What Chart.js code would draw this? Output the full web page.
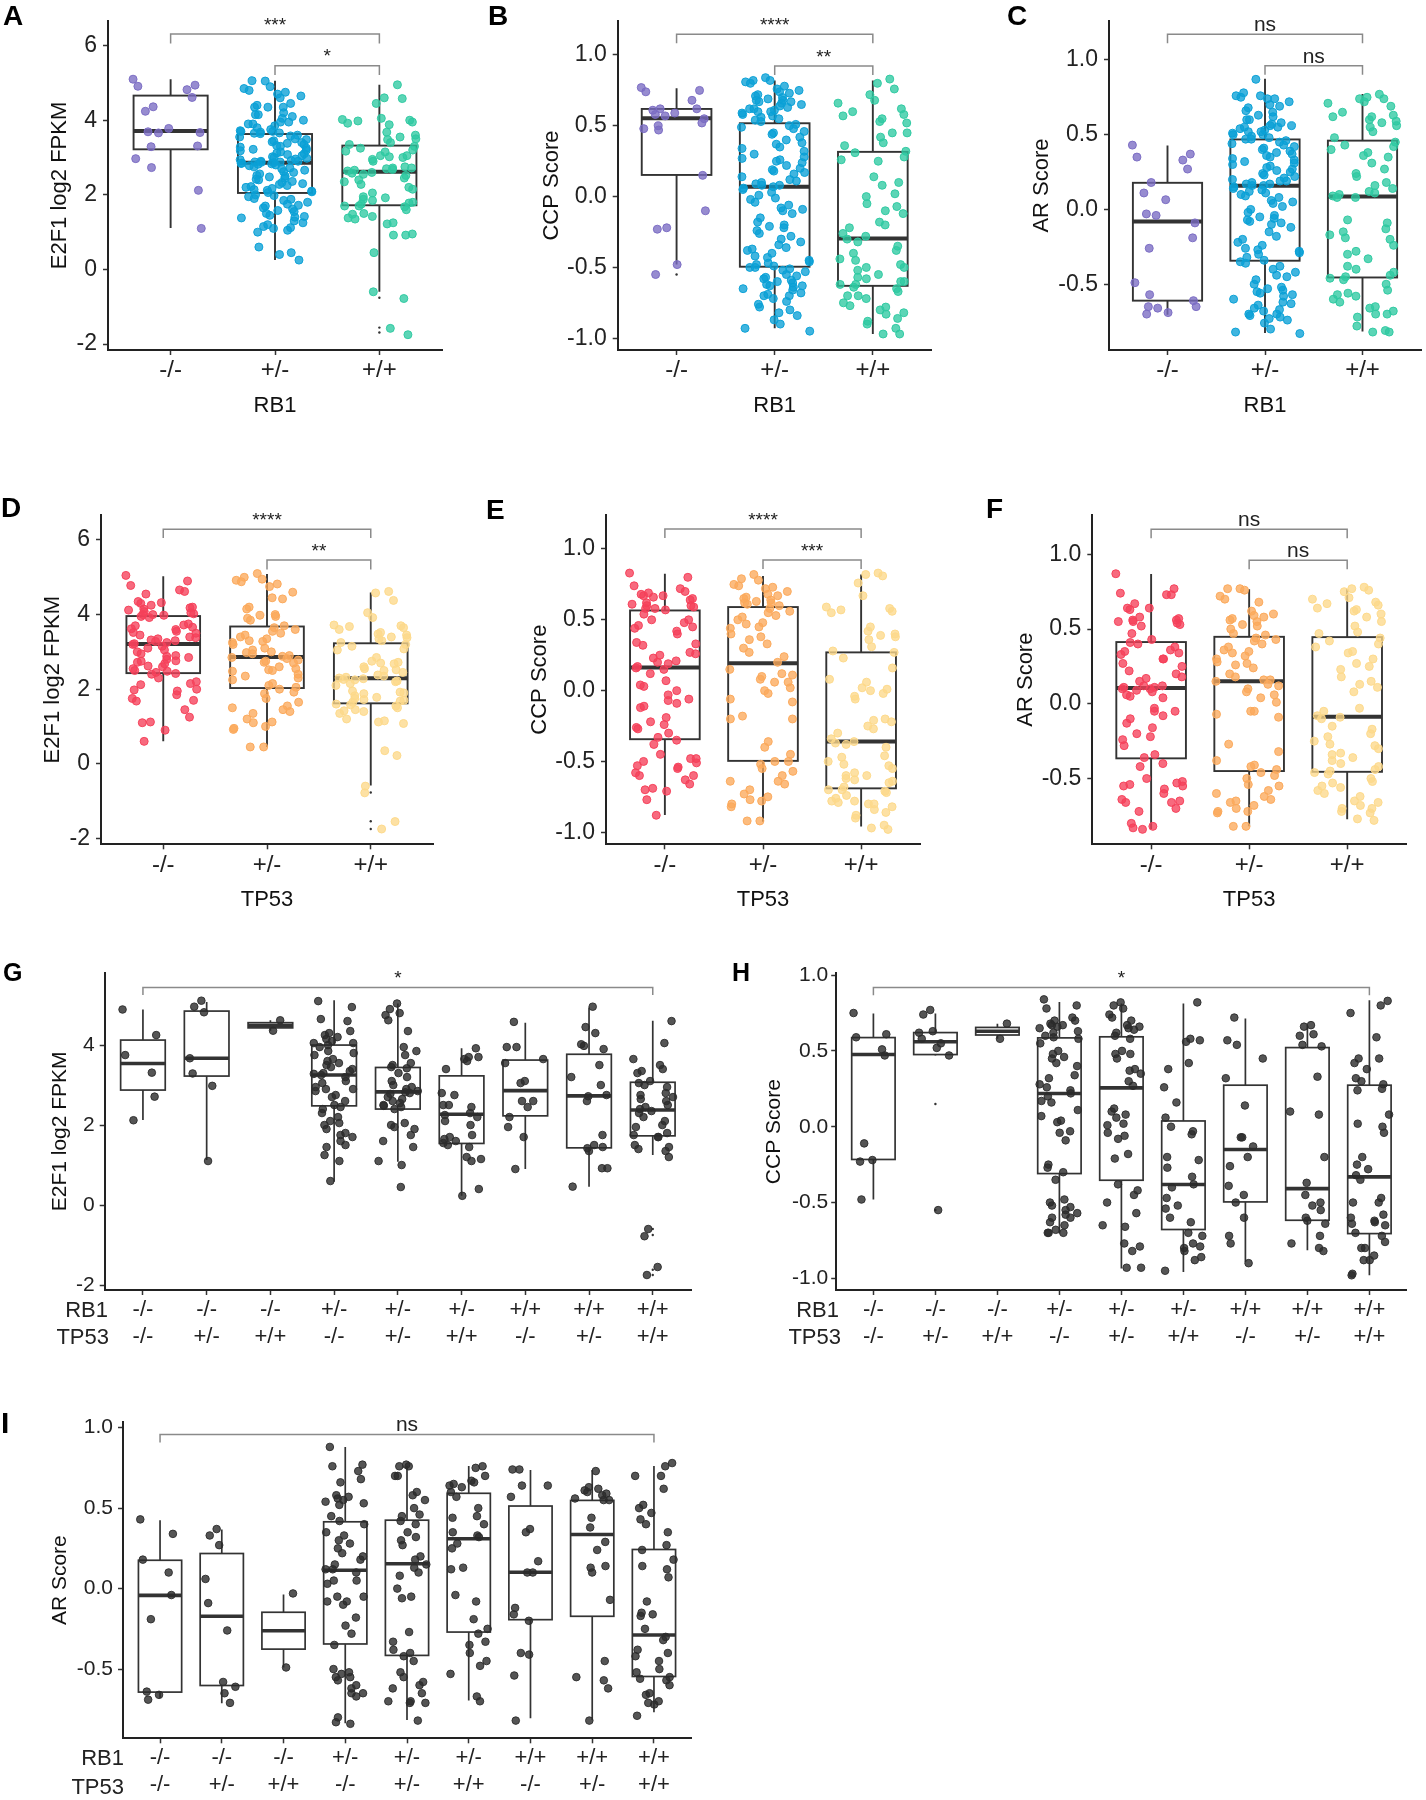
<!DOCTYPE html>
<html>
<head>
<meta charset="utf-8">
<script src="https://cdn.jsdelivr.net/npm/chart.js@4.4.1/dist/chart.umd.min.js"></script>
<style>
body { margin: 0; background: #fff; }
#fig { position: relative; width: 1426px; height: 1800px; font-family: "Liberation Sans", Arial, sans-serif; }
#fig canvas { position: absolute; }
.letter { position: absolute; font-weight: bold; color: #000; line-height: 1; }
.rowlab { position: absolute; font-size: 22px; line-height: 22px; color: #222; white-space: nowrap; text-align: right; }
</style>
</head>
<body>
<div id="fig"></div>
<script>
// categories
var rb1Levels = ['-/-', '+/-', '+/+'];
var tp53Levels = ['-/-', '+/-', '+/+'];
var comboRB1 = ['-/-', '-/-', '-/-', '+/-', '+/-', '+/-', '+/+', '+/+', '+/+'];
var comboTP53 = ['-/-', '+/-', '+/+', '-/-', '+/-', '+/+', '-/-', '+/-', '+/+'];

// tick labels
var e2f1Ticks = [-2, 0, 2, 4, 6];
var e2f1ComboTicks = [-2, 0, 2, 4];
var ccpTicks = [-1, -0.5, 0, 0.5, 1];
var arTicks = [-0.5, 0, 0.5, 1];
var xTicks3 = [1, 2, 3];
var xTicks9 = [1, 2, 3, 4, 5, 6, 7, 8, 9];

// A: E2F1 by RB1
var aNull = [5.1,4.94,4.91,4.82,4.61,4.36,4.24,3.78,3.69,3.66,3.67,3.31,3.29,2.97,2.73,2.12,1.1];
var aHet = [5.05,5.06,4.9,4.85,4.8,4.75,4.7,4.65,4.6,4.45,4.4,4.35,4.35,4.35,4.2,4.15,4.15,4.1,4.05,4.0,3.95,3.95,3.9,3.9,3.85,3.8,3.75,3.72,3.7,3.7,3.68,3.66,3.65,3.64,
  3.6,3.58,3.55,3.5,3.48,3.45,3.42,3.4,3.38,3.35,3.32,3.3,3.28,3.25,3.22,3.2,3.18,3.15,3.12,3.1,3.08,3.05,3.02,3.0,2.98,2.96,2.94,2.92,2.9,2.9,2.88,2.88,2.87,2.86,
  2.85,2.84,2.83,2.82,2.8,2.78,2.75,2.72,2.7,2.66,2.62,2.6,2.56,2.52,2.5,2.48,2.45,2.42,2.4,2.36,2.33,2.3,2.28,2.25,2.22,2.2,2.17,2.14,2.12,2.1,2.08,2.06,
  2.0,1.98,1.95,1.9,1.88,1.85,1.8,1.75,1.72,1.7,1.65,1.62,1.58,1.55,1.5,1.45,1.42,1.4,1.38,1.3,1.25,1.2,1.15,1.12,1.1,1.05,1.0,0.6,0.45,0.4,0.25];
var aWt = [4.95,4.6,4.58,4.45,4.05,4.02,4.0,3.98,3.95,3.92,3.88,3.68,3.6,3.55,3.5,3.48,3.4,3.35,
  3.3,3.25,3.2,3.17,3.15,3.05,3.05,3.02,3.0,2.95,2.9,2.75,2.72,2.72,2.7,2.68,2.66,2.64,
  2.6,2.58,2.55,2.52,2.45,2.4,2.35,2.28,2.2,2.15,2.05,1.95,1.92,1.88,1.85,1.8,1.78,1.75,
  1.7,1.7,1.68,1.6,1.5,1.48,1.42,1.38,1.35,1.25,1.22,0.95,0.92,0.92,0.45,-0.6,-0.78,-1.58,-1.75];
var aBox = [[1.11,3.22,3.71,4.66,5.1],[0.25,2.05,2.86,3.63,5.06],[-0.6,1.72,2.62,3.32,4.95]];
var aOut = [[3,-0.76],[3,-1.56],[3,-1.69]];
var aBrackets = [[1,3,6.31,6.06,'***'],[2,3,5.46,5.21,'*']];

// B: CCP by RB1
var bNull = [0.77,0.75,0.74,0.68,0.62,0.62,0.61,0.59,0.58,0.57,0.55,0.52,0.5,0.48,0.47,0.15,-0.1,-0.22,-0.23,-0.48,-0.55];
var bHet = [0.84,0.82,0.82,0.81,0.8,0.78,0.76,0.75,0.74,0.73,0.72,0.71,0.7,0.69,0.68,0.68,0.67,0.67,0.66,0.65,0.64,0.63,0.62,0.62,0.61,0.6,0.6,0.59,0.58,0.57,0.56,0.55,0.54,0.53,
  0.51,0.5,0.49,0.48,0.46,0.45,0.44,0.42,0.4,0.38,0.37,0.35,0.34,0.32,0.3,0.28,0.27,0.26,0.25,0.24,0.22,0.2,0.19,0.18,0.17,0.16,0.14,0.12,0.11,0.1,0.09,0.08,0.08,0.07,
  0.06,0.05,0.03,0.01,-0.01,-0.02,-0.04,-0.06,-0.08,-0.09,-0.1,-0.12,-0.15,-0.18,-0.2,-0.21,-0.22,-0.24,-0.26,-0.28,-0.3,-0.32,-0.34,-0.36,-0.37,-0.38,-0.4,-0.42,-0.43,-0.45,-0.46,-0.47,-0.48,-0.49,
  -0.5,-0.5,-0.51,-0.52,-0.53,-0.55,-0.56,-0.57,-0.58,-0.59,-0.6,-0.61,-0.62,-0.63,-0.63,-0.64,-0.65,-0.66,-0.68,-0.69,-0.7,-0.7,-0.72,-0.74,-0.76,-0.78,-0.8,-0.82,-0.84,-0.87,-0.9,-0.93,-0.95];
var bWt = [0.83,0.8,0.76,0.72,0.68,0.66,0.62,0.6,0.58,0.57,0.55,0.53,0.52,0.45,0.45,0.42,0.38,0.36,
  0.32,0.31,0.28,0.26,0.25,0.14,0.1,0.08,0.02,0.0,-0.05,-0.07,-0.1,-0.12,-0.18,-0.2,-0.22,-0.26,-0.28,
  -0.3,-0.32,-0.35,-0.38,-0.4,-0.44,-0.45,-0.48,-0.5,-0.5,-0.52,-0.55,-0.57,-0.58,-0.6,-0.6,-0.62,-0.62,
  -0.64,-0.65,-0.67,-0.7,-0.7,-0.72,-0.75,-0.77,-0.78,-0.8,-0.82,-0.83,-0.86,-0.88,-0.9,-0.93,-0.97,-0.97];
var bBox = [[-0.48,0.153,0.553,0.619,0.765],[-0.93,-0.495,0.07,0.518,0.82],[-0.97,-0.63,-0.295,0.316,0.82]];
var bOut = [[1,-0.55]];
var bBrackets = [[1,3,1.146,1.083,'****'],[2,3,0.922,0.859,'**']];

// C: AR by RB1
var cNull = [0.43,0.37,0.35,0.33,0.27,0.18,0.11,0.065,-0.03,-0.04,-0.09,-0.19,-0.26,-0.49,-0.57,-0.61,-0.65,-0.66,-0.65,-0.69,-0.7];
var cHet = [0.87,0.78,0.76,0.76,0.75,0.74,0.74,0.72,0.7,0.69,0.68,0.66,0.65,0.63,0.62,0.6,0.6,0.58,0.57,0.56,0.56,0.55,0.55,0.54,0.53,0.52,0.52,0.51,0.5,0.5,0.49,0.48,0.47,0.47,
  0.46,0.45,0.44,0.43,0.42,0.41,0.4,0.39,0.38,0.37,0.36,0.35,0.34,0.33,0.32,0.31,0.3,0.29,0.28,0.27,0.26,0.25,0.24,0.23,0.22,0.21,0.2,0.19,0.19,0.18,0.17,0.17,0.16,0.16,
  0.15,0.14,0.13,0.12,0.11,0.1,0.09,0.08,0.06,0.05,0.04,0.02,0.0,-0.02,-0.04,-0.05,-0.06,-0.07,-0.08,-0.09,-0.1,-0.12,-0.15,-0.18,-0.2,-0.22,-0.24,-0.26,-0.27,-0.28,-0.29,-0.3,-0.32,-0.34,
  -0.35,-0.36,-0.38,-0.4,-0.42,-0.44,-0.45,-0.47,-0.5,-0.52,-0.53,-0.54,-0.55,-0.56,-0.57,-0.58,-0.6,-0.62,-0.63,-0.64,-0.66,-0.67,-0.68,-0.7,-0.7,-0.71,-0.72,-0.73,-0.74,-0.76,-0.8,-0.82,-0.83];
var cWt = [0.77,0.75,0.74,0.74,0.72,0.71,0.69,0.65,0.63,0.62,0.62,0.6,0.59,0.58,0.56,0.55,0.52,0.48,
  0.45,0.43,0.42,0.4,0.38,0.36,0.35,0.31,0.27,0.24,0.22,0.18,0.16,0.14,0.12,0.11,0.1,0.09,
  0.08,0.08,-0.07,-0.09,-0.13,-0.15,-0.17,-0.19,-0.2,-0.24,-0.28,-0.3,-0.33,-0.38,-0.4,-0.42,-0.44,-0.45,
  -0.46,-0.47,-0.5,-0.54,-0.56,-0.57,-0.58,-0.6,-0.62,-0.65,-0.66,-0.68,-0.7,-0.7,-0.72,-0.78,-0.81,-0.82,-0.82];
var cBox = [[-0.705,-0.61,-0.08,0.178,0.428],[-0.827,-0.343,0.158,0.468,0.874],[-0.816,-0.455,0.087,0.46,0.772]];
var cBrackets = [[1,3,1.172,1.112,'ns'],[2,3,0.96,0.9,'ns']];

// D: E2F1 by TP53
var dNull = [5.05,4.9,4.78,4.66,4.62,4.55,4.35,4.32,4.3,4.25,4.2,4.18,4.15,4.12,4.08,4.05,4.02,4.0,4.0,3.98,
  3.95,3.92,3.75,3.72,3.7,3.66,3.62,3.6,3.55,3.52,3.5,3.45,3.4,3.38,3.35,3.32,3.3,3.28,3.25,3.22,
  3.2,3.15,3.1,3.05,3.0,2.95,2.9,2.88,2.85,2.8,2.76,2.75,2.72,2.68,2.62,2.6,2.55,2.5,2.48,2.45,
  2.42,2.4,2.3,2.2,2.15,2.12,2.0,1.98,1.95,1.85,1.75,1.7,1.68,1.45,1.25,1.12,1.1,0.9,0.6];
var dHet = [5.1,5.0,4.95,4.92,4.88,4.82,4.75,4.6,4.45,4.42,4.2,4.15,4.0,3.98,3.95,3.9,3.85,3.7,
  3.65,3.6,3.55,3.5,3.45,3.4,3.35,3.3,3.28,3.25,3.2,3.1,3.05,3.0,2.98,2.95,2.9,2.88,
  2.85,2.82,2.78,2.75,2.72,2.7,2.6,2.55,2.52,2.5,2.48,2.4,2.35,2.3,2.25,2.15,2.1,2.05,
  2.0,1.92,1.88,1.75,1.65,1.55,1.5,1.45,1.4,1.35,1.2,1.12,1.1,1.0,0.95,0.92,0.45,0.45];
var dWt = [4.62,4.58,4.38,4.05,3.92,3.72,3.7,3.68,3.65,3.6,3.52,3.48,3.45,3.4,3.38,3.35,3.3,3.25,
  3.2,3.15,3.08,3.05,2.85,2.75,2.72,2.7,2.68,2.6,2.55,2.52,2.5,2.45,2.38,2.35,2.32,2.3,
  2.28,2.26,2.25,2.22,2.2,2.15,2.1,1.95,1.92,1.9,1.88,1.82,1.78,1.75,1.72,1.7,1.68,1.65,
  1.6,1.58,1.55,1.5,1.45,1.42,1.4,1.35,1.2,1.15,1.12,1.08,0.35,0.22,-0.6,-0.78,-1.55,-1.75];
var dBox = [[0.6,2.43,3.21,3.96,5.03],[0.45,2.03,2.86,3.68,5.09],[-0.58,1.62,2.29,3.23,4.59]];
var dOut = [[3,-0.77],[3,-1.54],[3,-1.75]];
var dBrackets = [[1,3,6.29,6.05,'****'],[2,3,5.46,5.21,'**']];

// E: CCP by TP53
var eNull = [0.83,0.8,0.74,0.72,0.7,0.69,0.68,0.67,0.67,0.66,0.65,0.64,0.62,0.61,0.6,0.6,0.59,0.58,0.58,0.57,
  0.54,0.5,0.5,0.48,0.46,0.45,0.44,0.42,0.4,0.34,0.33,0.32,0.27,0.26,0.25,0.23,0.21,0.2,0.19,0.17,
  0.16,0.15,0.12,0.07,0.04,0.03,0.0,-0.03,-0.06,-0.07,-0.09,-0.11,-0.12,-0.19,-0.22,-0.24,-0.26,-0.27,-0.3,-0.33,
  -0.35,-0.38,-0.45,-0.48,-0.48,-0.5,-0.51,-0.53,-0.54,-0.55,-0.58,-0.6,-0.6,-0.63,-0.66,-0.69,-0.7,-0.71,-0.77,-0.88];
var eHet = [0.82,0.79,0.78,0.75,0.74,0.73,0.72,0.7,0.68,0.67,0.66,0.65,0.64,0.63,0.62,0.62,0.61,0.6,
  0.58,0.56,0.55,0.53,0.52,0.5,0.48,0.47,0.45,0.44,0.4,0.38,0.36,0.33,0.3,0.27,0.24,0.2,
  0.15,0.12,0.11,0.1,0.08,0.06,0.06,0.02,0.0,-0.02,-0.06,-0.08,-0.18,-0.2,-0.2,-0.36,-0.4,-0.45,
  -0.5,-0.5,-0.52,-0.55,-0.57,-0.6,-0.64,-0.64,-0.66,-0.7,-0.73,-0.75,-0.77,-0.78,-0.8,-0.82,-0.92,-0.92];
var eWt = [0.83,0.82,0.81,0.76,0.67,0.59,0.58,0.57,0.56,0.55,0.45,0.42,0.4,0.39,0.38,0.36,0.31,0.28,
  0.27,0.23,0.16,0.08,0.06,0.02,0.01,0.0,-0.02,-0.04,-0.06,-0.2,-0.21,-0.22,-0.25,-0.27,-0.3,-0.34,
  -0.36,-0.37,-0.38,-0.4,-0.46,-0.47,-0.5,-0.52,-0.53,-0.55,-0.58,-0.6,-0.6,-0.62,-0.63,-0.64,-0.65,-0.68,
  -0.7,-0.7,-0.71,-0.72,-0.74,-0.76,-0.78,-0.78,-0.79,-0.8,-0.8,-0.82,-0.84,-0.86,-0.88,-0.9,-0.95,-0.97,-0.98];
var eBox = [[-0.878,-0.343,0.163,0.566,0.825],[-0.925,-0.496,0.194,0.59,0.81],[-0.96,-0.69,-0.36,0.27,0.82]];
var eBrackets = [[1,3,1.141,1.078,'****'],[2,3,0.922,0.859,'***']];

// F: AR by TP53
var fNull = [0.87,0.77,0.74,0.73,0.73,0.67,0.64,0.64,0.63,0.58,0.57,0.56,0.56,0.55,0.55,0.54,0.53,0.52,0.47,0.43,
  0.41,0.4,0.38,0.36,0.35,0.34,0.33,0.3,0.3,0.27,0.25,0.22,0.2,0.18,0.17,0.15,0.12,0.12,0.11,0.11,
  0.1,0.1,0.09,0.08,0.06,0.05,0.04,-0.03,-0.05,-0.05,-0.08,-0.1,-0.13,-0.16,-0.2,-0.22,-0.24,-0.28,-0.34,-0.36,
  -0.4,-0.42,-0.5,-0.52,-0.53,-0.54,-0.55,-0.55,-0.57,-0.6,-0.64,-0.65,-0.66,-0.66,-0.7,-0.72,-0.8,-0.82,-0.83,-0.84];
var fHet = [0.77,0.77,0.76,0.72,0.7,0.68,0.62,0.6,0.59,0.58,0.57,0.56,0.55,0.53,0.52,0.5,0.47,0.46,
  0.44,0.43,0.42,0.4,0.38,0.36,0.35,0.34,0.32,0.3,0.28,0.27,0.26,0.24,0.2,0.18,0.16,0.16,
  0.15,0.13,0.12,0.1,0.08,0.06,0.04,0.01,-0.05,-0.05,-0.07,-0.09,-0.27,-0.32,-0.38,-0.41,-0.42,-0.44,
  -0.46,-0.48,-0.5,-0.54,-0.55,-0.58,-0.6,-0.62,-0.64,-0.65,-0.66,-0.68,-0.7,-0.72,-0.72,-0.73,-0.82,-0.82];
var fWt = [0.78,0.77,0.76,0.75,0.71,0.7,0.68,0.67,0.66,0.64,0.63,0.62,0.6,0.58,0.55,0.52,0.48,0.47,
  0.44,0.42,0.4,0.38,0.35,0.34,0.3,0.27,0.25,0.23,0.18,0.15,0.13,0.11,0.08,-0.03,-0.05,-0.08,
  -0.09,-0.1,-0.15,-0.17,-0.2,-0.22,-0.25,-0.27,-0.28,-0.3,-0.33,-0.34,-0.36,-0.38,-0.4,-0.42,-0.44,-0.45,
  -0.46,-0.47,-0.5,-0.52,-0.53,-0.55,-0.56,-0.58,-0.6,-0.62,-0.65,-0.66,-0.68,-0.7,-0.7,-0.72,-0.73,-0.77,-0.78];
var fBox = [[-0.839,-0.365,0.105,0.413,0.868],[-0.82,-0.45,0.15,0.448,0.766],[-0.772,-0.455,-0.087,0.446,0.766]];
var fBrackets = [[1,3,1.167,1.107,'ns'],[2,3,0.96,0.9,'ns']];

// G: E2F1 by RB1 x TP53
var g1 = [4.89,4.25,3.75,3.31,2.71,2.12];
var g2 = [5.11,4.96,4.82,3.67,3.29,2.98,1.1];
var g3 = [4.62,4.36];
var g4 = [5.1,4.95,4.65,4.6,4.35,4.3,4.25,4.2,4.15,4.1,4.05,4.05,4.0,3.95,3.85,3.8,3.75,3.65,3.6,3.55,3.5,3.45,3.4,3.35,3.3,3.28,3.25,3.2,3.1,3.05,2.95,2.9,2.9,2.85,2.75,2.7,2.6,2.5,2.45,2.4,2.3,2.2,2.1,2.05,2.0,1.9,1.8,1.75,1.7,1.6,1.5,1.45,1.25,1.1,0.6];
var g5 = [5.04,4.9,4.8,4.75,4.62,4.35,3.95,3.85,3.75,3.55,3.5,3.45,3.42,3.3,3.2,3.1,3.0,2.95,2.9,2.85,2.82,2.8,2.78,2.7,2.65,2.6,2.55,2.5,2.48,2.45,2.4,2.05,2.0,1.95,1.9,1.75,1.6,1.45,1.1,1.0,0.45];
var g6 = [3.92,3.7,3.7,3.65,3.6,3.4,2.8,2.75,2.5,2.5,2.45,2.3,2.25,2.2,2.1,2.0,1.75,1.7,1.65,1.6,1.55,1.5,1.45,1.2,1.15,1.1,0.4,0.23];
var g7 = [4.58,3.95,3.95,3.65,3.55,3.1,3.05,2.6,2.6,2.45,2.2,1.95,1.7,0.9];
var g8 = [4.96,4.45,4.3,4.02,3.98,3.9,3.5,3.2,3.0,2.75,2.72,2.6,1.75,1.5,1.45,1.42,1.35,0.92,0.92,0.46];
var g9 = [4.6,4.05,3.65,3.5,3.4,3.35,3.3,3.1,3.05,3.0,2.95,2.8,2.75,2.7,2.65,2.6,2.5,2.45,2.4,2.35,2.3,2.2,2.1,2.0,1.95,1.8,1.75,1.7,1.7,1.5,1.45,1.4,1.35,1.2,-0.6,-0.78,-1.55,-1.75];
var gBox = [[2.125,2.875,3.54,4.125,4.89],[1.125,3.225,3.67,4.85,5.08],[4.36,4.43,4.49,4.56,4.62],[0.58,2.48,3.25,4.0,5.12],[1.08,2.4,2.83,3.44,5.04],[0.23,1.54,2.27,3.23,3.92],[0.9,2.23,2.86,3.625,4.56],[0.46,1.43,2.73,3.77,4.94],[1.25,1.73,2.375,3.07,4.61]];
var gOut = [[9,-0.6],[9,-0.75],[9,-1.62],[9,-1.75]];
var gBrackets = [[1,9,5.44,5.25,'*']];

// H: CCP by RB1 x TP53
var h1 = [0.75,0.61,0.59,0.51,0.47,-0.11,-0.23,-0.22,-0.48];
var h2 = [0.77,0.74,0.63,0.62,0.58,0.55,0.52,0.47,-0.55];
var h3 = [0.68,0.58];
var h4 = [0.84,0.8,0.78,0.72,0.7,0.7,0.68,0.67,0.67,0.66,0.65,0.63,0.62,0.6,0.59,0.58,0.55,0.5,0.48,0.46,0.45,0.42,0.4,0.34,0.32,0.28,0.26,0.24,0.22,0.2,0.17,0.16,0.11,0.07,0.04,0.03,-0.03,-0.04,-0.09,-0.25,-0.27,-0.3,-0.35,-0.48,-0.5,-0.52,-0.53,-0.55,-0.57,-0.58,-0.6,-0.6,-0.63,-0.65,-0.68,-0.7,-0.7,-0.7];
var h5 = [0.82,0.8,0.78,0.74,0.72,0.7,0.67,0.66,0.65,0.64,0.62,0.6,0.58,0.5,0.48,0.48,0.45,0.38,0.37,0.35,0.3,0.27,0.12,0.1,0.08,0.06,0.02,0.01,-0.04,-0.06,-0.08,-0.18,-0.21,-0.38,-0.42,-0.45,-0.5,-0.57,-0.65,-0.66,-0.77,-0.79,-0.82,-0.93,-0.93];
var h6 = [0.82,0.58,0.57,0.56,0.42,0.38,0.26,0.16,0.06,0.0,-0.03,-0.05,-0.2,-0.22,-0.27,-0.33,-0.38,-0.4,-0.47,-0.52,-0.54,-0.6,-0.63,-0.7,-0.72,-0.77,-0.79,-0.8,-0.82,-0.86,-0.88,-0.95];
var h7 = [0.72,0.57,0.54,0.45,0.32,0.14,-0.07,-0.13,-0.07,-0.2,-0.26,-0.39,-0.45,-0.5,-0.6,-0.72,-0.77,-0.9];
var h8 = [0.67,0.66,0.61,0.6,0.54,0.53,0.33,0.1,0.08,-0.2,-0.37,-0.45,-0.5,-0.52,-0.55,-0.6,-0.62,-0.64,-0.72,-0.77,-0.8,-0.82];
var h9 = [0.83,0.8,0.75,0.59,0.45,0.45,0.42,0.38,0.32,0.3,0.28,0.25,0.24,0.08,0.02,0.0,-0.04,-0.2,-0.25,-0.28,-0.32,-0.35,-0.47,-0.5,-0.5,-0.58,-0.6,-0.62,-0.63,-0.64,-0.65,-0.7,-0.72,-0.76,-0.8,-0.8,-0.85,-0.88,-0.88,-0.97,-0.98];
var hBox = [[-0.48,-0.216,0.476,0.588,0.747],[0.47,0.476,0.56,0.621,0.747],[0.58,0.605,0.63,0.655,0.68],[-0.705,-0.309,0.219,0.586,0.823],[-0.935,-0.353,0.256,0.593,0.812],[-0.958,-0.678,-0.381,0.038,0.812],[-0.892,-0.496,-0.15,0.274,0.714],[-0.815,-0.617,-0.408,0.522,0.67],[-0.98,-0.705,-0.331,0.274,0.834]];
var hOut = [[2,0.15],[2,-0.55]];
var hBrackets = [[1,9,0.918,0.867,'*']];

// I: AR by RB1 x TP53
var i1 = [0.43,0.34,0.18,0.1,-0.04,-0.19,-0.64,-0.66,-0.69];
var i2 = [0.37,0.33,0.27,0.06,-0.09,-0.26,-0.58,-0.61,-0.65,-0.71];
var i3 = [-0.03,-0.49];
var i4 = [0.88,0.77,0.76,0.73,0.68,0.66,0.58,0.57,0.56,0.55,0.54,0.53,0.52,0.45,0.42,0.4,0.35,0.33,0.3,0.28,0.25,0.22,0.2,0.18,0.15,0.12,0.12,0.1,0.05,0.05,0.03,-0.05,-0.05,-0.08,-0.08,-0.1,-0.18,-0.23,-0.28,-0.35,-0.5,-0.52,-0.53,-0.55,-0.55,-0.57,-0.6,-0.62,-0.65,-0.65,-0.67,-0.8,-0.83,-0.84];
var i5 = [0.77,0.76,0.76,0.7,0.7,0.6,0.58,0.55,0.5,0.46,0.45,0.42,0.4,0.35,0.32,0.3,0.27,0.2,0.18,0.15,0.13,0.1,0.08,0.0,-0.05,-0.06,-0.27,-0.33,-0.38,-0.4,-0.42,-0.45,-0.52,-0.55,-0.58,-0.6,-0.62,-0.65,-0.7,-0.7,-0.71,-0.71,-0.82];
var i6 = [0.76,0.75,0.7,0.67,0.66,0.65,0.64,0.63,0.6,0.57,0.5,0.45,0.44,0.4,0.35,0.33,0.32,0.28,0.25,0.13,0.12,-0.04,-0.08,-0.19,-0.25,-0.28,-0.33,-0.35,-0.4,-0.45,-0.48,-0.53,-0.67,-0.7];
var i7 = [0.74,0.74,0.64,0.64,0.57,0.37,0.35,0.17,0.1,0.1,-0.12,-0.16,-0.2,-0.4,-0.41,-0.54,-0.82];
var i8 = [0.73,0.63,0.62,0.61,0.6,0.59,0.58,0.56,0.55,0.55,0.44,0.38,0.29,0.24,0.14,0.13,0.1,-0.07,-0.45,-0.55,-0.57,-0.62,-0.82];
var i9 = [0.78,0.76,0.7,0.7,0.62,0.52,0.5,0.47,0.43,0.4,0.35,0.27,0.24,0.18,0.14,0.12,0.07,-0.08,-0.15,-0.16,-0.17,-0.25,-0.3,-0.32,-0.38,-0.4,-0.42,-0.45,-0.5,-0.52,-0.55,-0.56,-0.57,-0.6,-0.65,-0.66,-0.7,-0.71,-0.72,-0.79];
var iBox = [[-0.68,-0.643,-0.042,0.176,0.425],[-0.712,-0.602,-0.172,0.218,0.367],[-0.49,-0.376,-0.262,-0.147,-0.037],[-0.836,-0.344,0.114,0.415,0.88],[-0.816,-0.415,0.154,0.425,0.762],[-0.695,-0.27,0.31,0.592,0.762],[-0.805,-0.193,0.102,0.513,0.737],[-0.816,-0.172,0.336,0.548,0.737],[-0.768,-0.546,-0.288,0.243,0.762]];
var iBrackets = [[1,9,0.958,0.907,'ns']];

var FONT = '"Liberation Sans", Arial, sans-serif';
var rbColors = ['#7a6bc3', '#0aa0d6', '#2ec9a1'];
var tpColors = ['#f5405a', '#fba95b', '#fdd98a'];
var grey9 = ['#2b2b2b','#2b2b2b','#2b2b2b','#2b2b2b','#2b2b2b','#2b2b2b','#2b2b2b','#2b2b2b','#2b2b2b'];

function rgba(hex, a) {
  var n = parseInt(hex.slice(1), 16);
  return 'rgba(' + (n >> 16) + ',' + ((n >> 8) & 255) + ',' + (n & 255) + ',' + a + ')';
}

// deterministic horizontal spread for the jittered points
function jx(i, g, w) {
  var f = (i * 0.6180339887 + i * i * 0.2071067812 + g * 0.37) % 1;
  return g + 1 + (f - 0.5) * 2 * w;
}

var topStyle = {xmin: 0.4, xmax: 3.6, xTicks: xTicks3, jw: 0.36, bw: 0.71, r: 4, yFs: 23, yPad: 6,
  xFs: 24, xLh: 1.2, xPad: 0.6, ytFs: 22, xtFs: 22, boxW: 1.9, medW: 4, fillA: 0.78, lineA: 0.95};
var comboStyle = {xmin: 0.4, xmax: 9.6, xTicks: xTicks9, jw: 0.32, bw: 0.7, r: 3.8, yFs: 21, yPad: 5,
  xFs: 22, xLh: 27 / 22, xPad: 1.5, ytFs: 21, boxW: 1.7, medW: 3.6, fillA: 0.8, lineA: 0.9};

function rbLab(v) { return rb1Levels[v - 1]; }
function tpLab(v) { return tp53Levels[v - 1]; }
function comboLab(v) { return [comboRB1[v - 1], comboTP53[v - 1]]; }

var panels = [
  Object.assign({}, topStyle, {id: 'A', left: 0, top: 0, w: 460, h: 425, axL: 108, axT: 21, axR: 442, axB: 350,
    ymin: -2.16, ymax: 6.66, yTicks: e2f1Ticks, dec: 0, lab: rbLab, groups: [aNull, aHet, aWt], colors: rbColors,
    box: aBox, out: aOut, br: aBrackets, ytitle: 'E2F1 log2 FPKM', ytPad: 46.8, xtitle: 'RB1', xtPad: 5.8}),
  Object.assign({}, topStyle, {id: 'B', left: 470, top: 0, w: 470, h: 425, axL: 617.7, axT: 21, axR: 931.7, axB: 350,
    ymin: -1.083, ymax: 1.24, yTicks: ccpTicks, dec: 1, lab: rbLab, groups: [bNull, bHet, bWt], colors: rbColors,
    box: bBox, out: bOut, br: bBrackets, ytitle: 'CCP Score', ytPad: 68.5, xtitle: 'RB1', xtPad: 5.8}),
  Object.assign({}, topStyle, {id: 'C', left: 950, top: 0, w: 476, h: 425, axL: 1109, axT: 21, axR: 1423, axB: 350,
    ymin: -0.94, ymax: 1.26, yTicks: arTicks, dec: 1, lab: rbLab, groups: [cNull, cHet, cWt], colors: rbColors,
    box: cBox, out: [], br: cBrackets, ytitle: 'AR Score', ytPad: 78.5, xtitle: 'RB1', xtPad: 5.8}),
  Object.assign({}, topStyle, {id: 'D', left: 0, top: 490, w: 450, h: 430, axL: 101, axT: 515, axR: 433, axB: 844.3,
    ymin: -2.16, ymax: 6.67, yTicks: e2f1Ticks, dec: 0, lab: tpLab, groups: [dNull, dHet, dWt], colors: tpColors,
    box: dBox, out: dOut, br: dBrackets, ytitle: 'E2F1 log2 FPKM', ytPad: 39.8, xtitle: 'TP53', xtPad: 6.8, xPad: 1.3}),
  Object.assign({}, topStyle, {id: 'E', left: 470, top: 490, w: 470, h: 430, axL: 606, axT: 515, axR: 920, axB: 844.3,
    ymin: -1.085, ymax: 1.24, yTicks: ccpTicks, dec: 1, lab: tpLab, groups: [eNull, eHet, eWt], colors: tpColors,
    box: eBox, out: [], br: eBrackets, ytitle: 'CCP Score', ytPad: 56.8, xtitle: 'TP53', xtPad: 6.8, xPad: 1.3}),
  Object.assign({}, topStyle, {id: 'F', left: 950, top: 490, w: 476, h: 430, axL: 1092.3, axT: 515, axR: 1406, axB: 844.3,
    ymin: -0.94, ymax: 1.263, yTicks: arTicks, dec: 1, lab: tpLab, groups: [fNull, fHet, fWt], colors: tpColors,
    box: fBox, out: [], br: fBrackets, ytitle: 'AR Score', ytPad: 62.8, xtitle: 'TP53', xtPad: 6.8, xPad: 1.3}),
  Object.assign({}, comboStyle, {id: 'G', left: 0, top: 950, w: 710, h: 410, axL: 104.7, axT: 972.7, axR: 691, axB: 1290,
    ymin: -2.125, ymax: 5.81, yTicks: e2f1ComboTicks, dec: 0, lab: comboLab, groups: [g1, g2, g3, g4, g5, g6, g7, g8, g9], colors: grey9,
    box: gBox, out: gOut, br: gBrackets, ytitle: 'E2F1 log2 FPKM', ytPad: 47.4}),
  Object.assign({}, comboStyle, {id: 'H', left: 720, top: 950, w: 706, h: 410, axL: 836.2, axT: 973.3, axR: 1406.6, axB: 1290,
    ymin: -1.077, ymax: 1.012, yTicks: ccpTicks, dec: 1, lab: comboLab, groups: [h1, h2, h3, h4, h5, h6, h7, h8, h9], colors: grey9,
    box: hBox, out: hOut, br: hBrackets, ytitle: 'CCP Score', ytPad: 41.4, yPad: 3}),
  Object.assign({}, comboStyle, {id: 'I', left: 0, top: 1395, w: 710, h: 405, axL: 123, axT: 1422, axR: 691, axB: 1738.3,
    ymin: -0.93, ymax: 1.035, yTicks: arTicks, dec: 1, lab: comboLab, groups: [i1, i2, i3, i4, i5, i6, i7, i8, i9], colors: grey9,
    box: iBox, out: [], br: iBrackets, ytitle: 'AR Score', ytPad: 47.4})
];

// boxes, whiskers, outlier dots and significance brackets, all through the chart scales
function boxPlugin(p) {
  return {
    id: 'box' + p.id,
    beforeDatasetsDraw: function (chart) {
      var ctx = chart.ctx, xs = chart.scales.x, ys = chart.scales.y;
      ctx.save();
      ctx.strokeStyle = '#333';
      p.box.forEach(function (b, i) {
        var cx = xs.getPixelForValue(i + 1);
        var hw = xs.getPixelForValue(i + 1 + p.bw / 2) - cx;
        var lo = ys.getPixelForValue(b[0]), q1 = ys.getPixelForValue(b[1]);
        var md = ys.getPixelForValue(b[2]), q3 = ys.getPixelForValue(b[3]);
        var hi = ys.getPixelForValue(b[4]);
        ctx.lineWidth = p.boxW;
        ctx.beginPath();
        ctx.moveTo(cx, hi); ctx.lineTo(cx, q3);
        ctx.moveTo(cx, q1); ctx.lineTo(cx, lo);
        ctx.stroke();
        ctx.fillStyle = '#fff';
        ctx.fillRect(cx - hw, q3, 2 * hw, q1 - q3);
        ctx.strokeRect(cx - hw, q3, 2 * hw, q1 - q3);
        ctx.lineWidth = p.medW;
        ctx.beginPath();
        ctx.moveTo(cx - hw, md); ctx.lineTo(cx + hw, md);
        ctx.stroke();
      });
      ctx.fillStyle = '#333';
      p.out.forEach(function (o) {
        ctx.beginPath();
        ctx.arc(xs.getPixelForValue(o[0]), ys.getPixelForValue(o[1]), 1.2, 0, Math.PI * 2);
        ctx.fill();
      });
      ctx.restore();
    },
    afterDraw: function (chart) {
      var ctx = chart.ctx, xs = chart.scales.x, ys = chart.scales.y;
      ctx.save();
      ctx.strokeStyle = '#8a8a8a';
      ctx.lineWidth = 1.5;
      ctx.fillStyle = '#222';
      ctx.textAlign = 'center';
      ctx.textBaseline = 'alphabetic';
      p.br.forEach(function (b) {
        var x1 = xs.getPixelForValue(b[0]), x2 = xs.getPixelForValue(b[1]);
        var y = ys.getPixelForValue(b[2]), tip = ys.getPixelForValue(b[3]);
        ctx.beginPath();
        ctx.moveTo(x1, tip); ctx.lineTo(x1, y); ctx.lineTo(x2, y); ctx.lineTo(x2, tip);
        ctx.stroke();
        var isNs = b[4] === 'ns';
        ctx.font = (isNs ? 21 : 19) + 'px ' + FONT;
        ctx.fillText(b[4], (x1 + x2) / 2, y - (isNs ? 3 : 3.5));
      });
      ctx.restore();
    }
  };
}

function makePanel(p) {
  var fig = document.getElementById('fig');
  var cv = document.createElement('canvas');
  cv.width = p.w;
  cv.height = p.h;
  cv.style.left = p.left + 'px';
  cv.style.top = p.top + 'px';
  fig.appendChild(cv);

  var datasets = p.groups.map(function (vals, g) {
    var col = p.colors[g];
    return {
      data: vals.map(function (v, i) { return {x: jx(i, g, p.jw), y: v}; }),
      pointRadius: p.r,
      pointHoverRadius: p.r,
      pointBackgroundColor: rgba(col, p.fillA),
      pointBorderColor: rgba(col, p.lineA),
      pointBorderWidth: 1
    };
  });

  var xScale = {
    type: 'linear', min: p.xmin, max: p.xmax, bounds: 'data',
    afterBuildTicks: function (s) { s.ticks = p.xTicks.map(function (v) { return {value: v}; }); },
    afterFit: function (s) { s.height = p.top + p.h - p.axB; },
    ticks: {autoSkip: false, maxRotation: 0, minRotation: 0, padding: p.xPad, color: '#222',
      font: {family: FONT, size: p.xFs, lineHeight: p.xLh},
      callback: function (v) { return p.lab(v); }},
    grid: {display: true, drawOnChartArea: false, drawTicks: true, tickLength: 5, tickColor: '#333', tickWidth: 1.5},
    border: {display: true, color: '#222', width: 2},
    title: {display: false}
  };
  if (p.xtitle) {
    xScale.title = {display: true, text: p.xtitle, color: '#111',
      font: {family: FONT, size: p.xtFs, lineHeight: 1.2}, padding: {top: 0, bottom: p.xtPad}};
  }

  new Chart(cv, {
    type: 'scatter',
    data: {datasets: datasets},
    options: {
      responsive: false,
      animation: false,
      devicePixelRatio: 1,
      events: [],
      layout: {padding: {left: 0, top: p.axT - p.top, right: p.left + p.w - p.axR, bottom: 0}},
      plugins: {legend: {display: false}, tooltip: {enabled: false}},
      scales: {
        x: xScale,
        y: {
          type: 'linear', min: p.ymin, max: p.ymax, bounds: 'data',
          afterBuildTicks: function (s) { s.ticks = p.yTicks.map(function (v) { return {value: v}; }); },
          afterFit: function (s) { s.width = p.axL - p.left; },
          ticks: {autoSkip: false, padding: p.yPad, color: '#222', font: {family: FONT, size: p.yFs},
            callback: function (v) { return Number(v).toFixed(p.dec); }},
          grid: {display: true, drawOnChartArea: false, drawTicks: true, tickLength: 5, tickColor: '#333', tickWidth: 1.5},
          border: {display: true, color: '#222', width: 2},
          title: {display: true, text: p.ytitle, color: '#111',
            font: {family: FONT, size: p.ytFs, lineHeight: 1.2}, padding: {top: p.ytPad, bottom: 0}}
        }
      }
    },
    plugins: [boxPlugin(p)]
  });
}

panels.forEach(makePanel);

// panel letters
var letters = [['A', 3, 2.3, 28], ['B', 488, 2.3, 28], ['C', 1007, 1.5, 28], ['D', 1, 494.4, 28], ['E', 486, 496, 28],
  ['F', 986, 495, 28], ['G', 3, 960, 25], ['H', 732, 960, 25], ['I', 1, 1408, 30]];
letters.forEach(function (l) {
  var d = document.createElement('div');
  d.className = 'letter';
  d.textContent = l[0];
  d.style.left = l[1] + 'px';
  d.style.top = l[2] + 'px';
  d.style.fontSize = l[3] + 'px';
  document.getElementById('fig').appendChild(d);
});

// row names for the two-level x labels
var rowLabels = [['RB1', 108, 1310], ['TP53', 109, 1337], ['RB1', 839, 1310], ['TP53', 841, 1337],
  ['RB1', 124, 1758], ['TP53', 124, 1787]];
rowLabels.forEach(function (r) {
  var d = document.createElement('div');
  d.className = 'rowlab';
  d.textContent = r[0];
  d.style.right = (1426 - r[1]) + 'px';
  d.style.top = (r[2] - 11) + 'px';
  document.getElementById('fig').appendChild(d);
});
</script>
</body>
</html>
